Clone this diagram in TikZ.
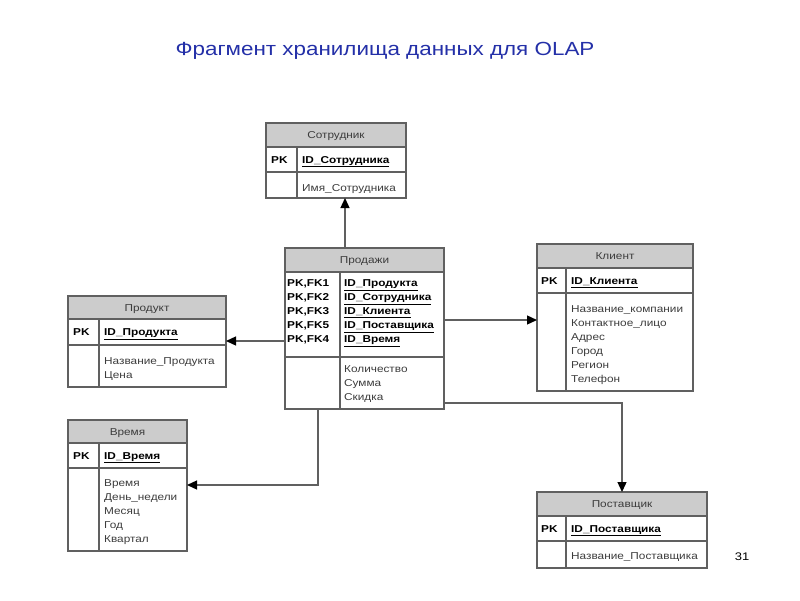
\documentclass[tikz,border=0pt]{standalone}
\usepackage{fontspec}
\setmainfont{Liberation Sans}[FakeStretch=1.18]
\usetikzlibrary{arrows.meta, positioning}
\definecolor{olapblue}{RGB}{36, 48, 168}
\definecolor{hdrgray}{RGB}{204, 204, 204}
\definecolor{linegray}{RGB}{96, 96, 96}
\definecolor{txtgray}{RGB}{60, 60, 60}

\begin{document}
\begin{tikzpicture}[x=1pt, y=-1pt,
    every node/.style={font=\fontsize{10}{14}\selectfont},
    hdr/.style={draw=linegray, fill=hdrgray, line width=1.3pt, outer sep=0pt, inner sep=0pt,
        anchor=north west, text=txtgray, text height=7.2pt, text depth=0pt},
    row/.style={draw=linegray, line width=1.3pt, outer sep=0pt, inner sep=0pt},
    keytxt/.style={inner sep=0pt, anchor=west, font=\fontsize{10}{14}\selectfont\bfseries,
        text height=7.2pt, text depth=0pt},
    keylist/.style={inner sep=0pt, anchor=north west, align=left,
        font=\fontsize{10}{14}\selectfont\bfseries, execute at begin node=\strut},
    attr/.style={inner sep=0pt, anchor=north west, align=left, text=txtgray,
        execute at begin node=\strut},
    divider/.style={draw=linegray, line width=1.3pt},
    link/.style={draw=linegray, line width=1.3pt, -{Triangle[length=10pt, width=9pt, color=black]}}]

\fill[white] (0,0) rectangle (800,600);
\useasboundingbox (0,0) rectangle (800,600);

\node[font=\fontsize{19}{22}\selectfont, text=olapblue] (title) at (385,51) {Фрагмент хранилища данных для OLAP};

% Сотрудник
\node[hdr, minimum width=140, minimum height=24] (empl-h) at (266,123) {Сотрудник};
\node[row, minimum width=140, minimum height=25, below=0pt of empl-h] (empl-k) {};
\node[row, minimum width=140, minimum height=26, below=0pt of empl-k] (empl-b) {};
\draw[divider] ([xshift=31]empl-k.north west) -- ([xshift=31]empl-b.south west);
\node[keytxt] (empl-pk) at ([xshift=5]empl-k.west) {PK};
\node[keytxt] (empl-id) at ([xshift=36]empl-k.west) {\underline{ID\_Сотрудника}};
\node[attr] (empl-at) at ([xshift=36, yshift=-9.5]empl-b.north west) {Имя\_Сотрудника};

% Продажи
\node[hdr, minimum width=159, minimum height=24] (sale-h) at (285,248) {Продажи};
\node[row, minimum width=159, minimum height=85, below=0pt of sale-h] (sale-k) {};
\node[row, minimum width=159, minimum height=52, below=0pt of sale-k] (sale-b) {};
\draw[divider] ([xshift=55]sale-k.north west) -- ([xshift=55]sale-b.south west);
\node[keylist] (sale-pk) at ([xshift=2, yshift=-7.8]sale-k.north west)
    {PK,FK1\\PK,FK2\\PK,FK3\\PK,FK5\\PK,FK4};
\node[keylist] (sale-id) at ([xshift=59, yshift=-7.8]sale-k.north west)
    {\underline{ID\_Продукта}\\\underline{ID\_Сотрудника}\\\underline{ID\_Клиента}\\
     \underline{ID\_Поставщика}\\\underline{ID\_Время}};
\node[attr] (sale-at) at ([xshift=59, yshift=-8.8]sale-b.north west) {Количество\\Сумма\\Скидка};

% Клиент
\node[hdr, minimum width=156, minimum height=24] (clnt-h) at (537,244) {Клиент};
\node[row, minimum width=156, minimum height=25, below=0pt of clnt-h] (clnt-k) {};
\node[row, minimum width=156, minimum height=98, below=0pt of clnt-k] (clnt-b) {};
\draw[divider] ([xshift=29]clnt-k.north west) -- ([xshift=29]clnt-b.south west);
\node[keytxt] (clnt-pk) at ([xshift=4]clnt-k.west) {PK};
\node[keytxt] (clnt-id) at ([xshift=34]clnt-k.west) {\underline{ID\_Клиента}};
\node[attr] (clnt-at) at ([xshift=34, yshift=-12]clnt-b.north west)
    {Название\_компании\\Контактное\_лицо\\Адрес\\Город\\Регион\\Телефон};

% Продукт
\node[hdr, minimum width=158, minimum height=23] (prdt-h) at (68,296) {Продукт};
\node[row, minimum width=158, minimum height=26, below=0pt of prdt-h] (prdt-k) {};
\node[row, minimum width=158, minimum height=42, below=0pt of prdt-k] (prdt-b) {};
\draw[divider] ([xshift=31]prdt-k.north west) -- ([xshift=31]prdt-b.south west);
\node[keytxt] (prdt-pk) at ([xshift=5]prdt-k.west) {PK};
\node[keytxt] (prdt-id) at ([xshift=36]prdt-k.west) {\underline{ID\_Продукта}};
\node[attr] (prdt-at) at ([xshift=36, yshift=-12.5]prdt-b.north west) {Название\_Продукта\\Цена};

% Время
\node[hdr, minimum width=119, minimum height=23] (time-h) at (68,420) {Время};
\node[row, minimum width=119, minimum height=25, below=0pt of time-h] (time-k) {};
\node[row, minimum width=119, minimum height=83, below=0pt of time-k] (time-b) {};
\draw[divider] ([xshift=31]time-k.north west) -- ([xshift=31]time-b.south west);
\node[keytxt] (time-pk) at ([xshift=5]time-k.west) {PK};
\node[keytxt] (time-id) at ([xshift=36]time-k.west) {\underline{ID\_Время}};
\node[attr] (time-at) at ([xshift=36, yshift=-11]time-b.north west)
    {Время\\День\_недели\\Месяц\\Год\\Квартал};

% Поставщик
\node[hdr, minimum width=170, minimum height=24] (supp-h) at (537,492) {Поставщик};
\node[row, minimum width=170, minimum height=25, below=0pt of supp-h] (supp-k) {};
\node[row, minimum width=170, minimum height=27, below=0pt of supp-k] (supp-b) {};
\draw[divider] ([xshift=29]supp-k.north west) -- ([xshift=29]supp-b.south west);
\node[keytxt] (supp-pk) at ([xshift=4]supp-k.west) {PK};
\node[keytxt] (supp-id) at ([xshift=34]supp-k.west) {\underline{ID\_Поставщика}};
\node[attr] (supp-at) at ([xshift=34, yshift=-8.5]supp-b.north west) {Название\_Поставщика};

% связи
\coordinate (sale-up) at ([xshift=-19.5]sale-h.north);
\coordinate (sale-left) at ([yshift=16]sale-k.south west);
\coordinate (sale-right) at ([yshift=-5.5]sale-k.east);
\coordinate (sale-down) at ([xshift=-46.5]sale-b.south);
\coordinate (sale-out) at ([yshift=-20]sale-b.east);
\coordinate (time-in) at ([yshift=24.5]time-b.east);
\draw[link] (sale-up) -- (sale-up |- empl-b.south);
\draw[link] (sale-left) -- (sale-left -| prdt-k.east);
\draw[link] (sale-right) -- (sale-right -| clnt-b.west);
\draw[link] (sale-down) |- (time-in);
\draw[link] (sale-out) -| (supp-h.north);

\node[font=\fontsize{11}{13}\selectfont] (pagenum) at (742,557) {31};
\end{tikzpicture}
\end{document}
